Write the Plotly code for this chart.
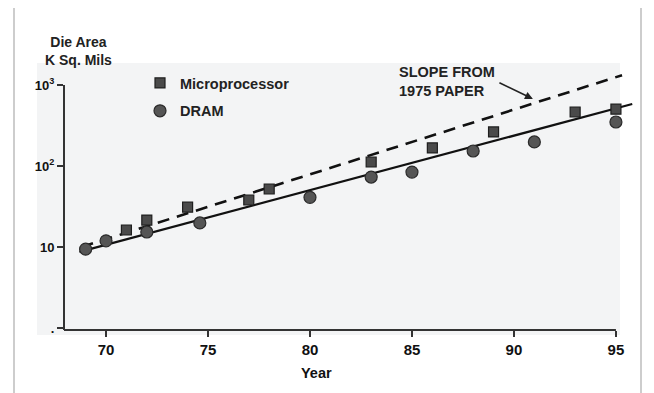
import plotly.graph_objects as go

# ---- data ----
mpu_years = [71, 72, 74, 77, 78, 83, 86, 89, 93, 95]
mpu_area = [16.2, 21.5, 31, 38, 52, 112, 167, 263, 464, 503]

dram_years = [69, 70, 72, 74.6, 80, 83, 85, 88, 91, 95]
dram_area = [9.4, 11.9, 15.3, 19.8, 41, 73, 84, 153, 198, 349]

fit_years = [68.7, 95.8]
fit_area = [8.7, 582]

slope_years = [68.8, 95.3]
slope_area = [10, 1320]

x_ticks = [70, 75, 80, 85, 90, 95]
y_ticks = [1, 10, 100, 1000]
y_ticktext = ["<b>.</b>", "10", "10<sup>2</sup>", "10<sup>3</sup>"]

# ---- layout geometry (reference pixels; page has an 8px body margin) ----
OFF = 8
W, H = 654 - OFF, 393 - OFF
L, R, T, B = 64, 640, 70, 330
XR = [67.94, 96.18]
YR = [-0.025, 3.185]


def px(x):
    return (x - L) / (R - L)


def py(y):
    return (B - y) / (B - T)


FONT = "Liberation Sans, Arial, sans-serif"
AX = "#333333"

fig = go.Figure()
fig.add_trace(go.Scatter(x=slope_years, y=slope_area, mode="lines",
                         line=dict(color="#111111", width=2.6, dash="12px,8px"),
                         showlegend=False, hoverinfo="skip"))
fig.add_trace(go.Scatter(x=fit_years, y=fit_area, mode="lines",
                         line=dict(color="#111111", width=2.2),
                         showlegend=False, hoverinfo="skip"))
fig.add_trace(go.Scatter(x=mpu_years, y=mpu_area, mode="markers", name="Microprocessor",
                         legendgroup="a",
                         marker=dict(symbol="square", size=10, color="#4a4a4a",
                                     line=dict(color="#1e1e1e", width=1.2))))
fig.add_trace(go.Scatter(x=dram_years, y=dram_area, mode="markers", name="DRAM",
                         legendgroup="b",
                         marker=dict(symbol="circle", size=12, color="#555555",
                                     line=dict(color="#2a2a2a", width=1.2))))

shapes = [
    dict(type="rect", xref="paper", yref="paper", x0=px(37), x1=px(620), y0=py(335), y1=py(63),
         fillcolor="#f3f4f5", line=dict(width=0), layer="below"),
    dict(type="rect", xref="paper", yref="paper", x0=px(14), x1=px(641), y0=py(400), y1=py(5),
         fillcolor="rgba(0,0,0,0)", line=dict(color="#bdbdbd", width=1.5), layer="below"),
    dict(type="line", xref="x", yref="paper", x0=XR[0], x1=95, y0=0, y1=0,
         line=dict(color=AX, width=2)),
    dict(type="line", xref="paper", yref="paper", x0=0, x1=0, y0=0,
         y1=(3 - YR[0]) / (YR[1] - YR[0]), line=dict(color=AX, width=2)),
]

annotations = [
    dict(text="<b>Die Area</b><br><b>K Sq. Mils</b>", xref="paper", yref="paper",
         x=px(78), y=py(51), xanchor="center", yanchor="middle", showarrow=False,
         font=dict(family=FONT, size=14, color="#222222"), align="center"),
    dict(text="<b>Year</b>", xref="paper", yref="paper", x=px(316), y=py(373),
         xanchor="center", yanchor="middle", showarrow=False,
         font=dict(family=FONT, size=14.5, color="#111111")),
    dict(text="<b>SLOPE FROM</b><br><b>1975 PAPER</b>", xref="paper", yref="paper",
         x=px(397), y=py(81.5), xanchor="left", yanchor="middle", showarrow=False,
         align="left", font=dict(family=FONT, size=14.5, color="#222222")),
    dict(text="", x=90.93, y=2.827, xref="x", yref="y", ax=-35, ay=-17,
         showarrow=True, arrowhead=2, arrowsize=1, arrowwidth=1.6, arrowcolor="#222222"),
]

fig.update_layout(
    width=W, height=H,
    margin=dict(l=L - OFF, r=654 - R, t=T - OFF, b=393 - B, pad=0),
    paper_bgcolor="white", plot_bgcolor="rgba(0,0,0,0)",
    font=dict(family=FONT, color="#222222"),
    shapes=shapes, annotations=annotations,
    legend=dict(x=px(140), y=py(67), xanchor="left", yanchor="top",
                bgcolor="rgba(0,0,0,0)", tracegroupgap=6,
                font=dict(family=FONT, size=14.5, color="#222222", weight="bold")),
    xaxis=dict(range=XR, showgrid=False, zeroline=False, showline=False,
               tickvals=x_ticks, ticks="outside", ticklen=6, tickwidth=1.5, tickcolor=AX,
               tickfont=dict(family=FONT, size=15, color="#111111", weight="bold")),
    yaxis=dict(type="log", range=YR, showgrid=False, zeroline=False, showline=False,
               tickvals=y_ticks, ticktext=y_ticktext, ticks="outside", ticklen=6,
               tickwidth=1.5, tickcolor=AX,
               tickfont=dict(family=FONT, size=13, color="#111111", weight="bold")),
)

fig.write_html("out.html")
